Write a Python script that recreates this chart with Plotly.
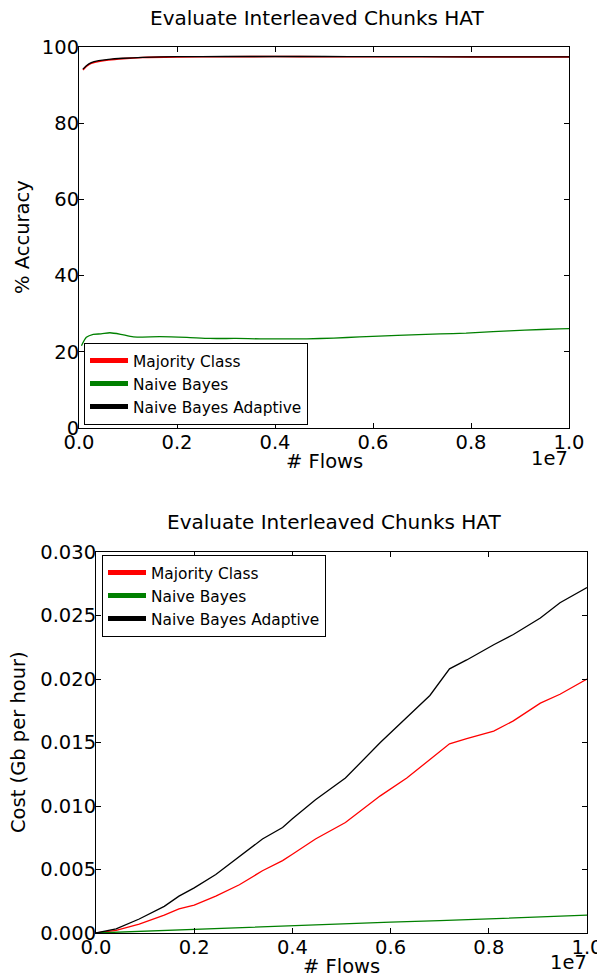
import plotly.graph_objects as go

W, H = 605, 978
OFF = 8  # page body margin: the figure is drawn 8px in from the window corner

# ---------------- data ----------------
series_names = ["Majority Class", "Naive Bayes", "Naive Bayes Adaptive"]
series_colors = ["#ff0000", "#008000", "#000000"]

# Top: % accuracy vs # flows
acc_x_mc = [0.08e6, 0.15e6, 0.25e6, 0.4e6, 0.6e6, 0.9e6, 1.3e6, 2.0e6, 3.0e6, 4.0e6, 5.0e6, 6.0e6, 7.0e6, 8.0e6, 9.0e6, 10.0e6]
acc_mc = [94.0, 94.9, 95.7, 96.2, 96.6, 96.95, 97.25, 97.4, 97.45, 97.5, 97.45, 97.45, 97.45, 97.4, 97.4, 97.4]
acc_nba = [94.2, 95.1, 95.9, 96.4, 96.75, 97.05, 97.3, 97.45, 97.5, 97.5, 97.5, 97.45, 97.45, 97.4, 97.4, 97.4]
acc_x_nb = [0.05e6, 0.15e6, 0.29e6, 0.45e6, 0.63e6, 0.85e6, 1.11e6, 1.65e6, 2.2e6, 2.67e6, 3.2e6, 3.7e6, 4.65e6, 5.2e6, 5.73e6, 6.5e6, 7.37e6, 7.9e6, 8.45e6, 9.1e6, 9.8e6, 10.0e6]
acc_nb = [21.6, 23.8, 24.6, 24.7, 25.0, 24.6, 23.9, 24.0, 23.8, 23.5, 23.5, 23.4, 23.4, 23.6, 23.9, 24.3, 24.7, 24.9, 25.3, 25.7, 26.0, 26.1]

# Bottom: cost vs # flows
cost_x = [0, 0.41e6, 0.88e6, 1.39e6, 1.69e6, 2.0e6, 2.44e6, 2.92e6, 3.39e6, 3.8e6, 4.0e6, 4.47e6, 5.08e6, 5.79e6, 6.33e6, 6.8e6, 7.2e6, 7.55e6, 8.1e6, 8.5e6, 9.05e6, 9.45e6, 10.0e6]
cost_mc = [0, 0.0002, 0.0007, 0.0014, 0.0019, 0.0022, 0.0029, 0.0038, 0.0049, 0.0057, 0.0062, 0.0074, 0.0087, 0.0108, 0.0122, 0.0137, 0.0149, 0.0153, 0.0159, 0.0167, 0.0181, 0.0188, 0.0200]
cost_nba = [0, 0.00032, 0.0011, 0.0021, 0.0029, 0.00355, 0.0046, 0.0060, 0.0074, 0.0083, 0.0090, 0.0105, 0.0122, 0.0150, 0.0170, 0.0187, 0.0208, 0.0215, 0.0227, 0.0235, 0.0248, 0.0260, 0.0272]
cost_x_nb = [0, 1e6, 2e6, 3e6, 4e6, 5e6, 6e6, 7e6, 8e6, 9e6, 10e6]
cost_nb = [0, 0.00015, 0.0003, 0.00045, 0.0006, 0.00072, 0.00085, 0.00097, 0.0011, 0.00125, 0.0014]

x_tickvals = [0, 2e6, 4e6, 6e6, 8e6, 10e6]
x_ticktext = ["0.0", "0.2", "0.4", "0.6", "0.8", "1.0"]
acc_tickvals = [0, 20, 40, 60, 80, 100]
cost_tickvals = [0, 0.005, 0.01, 0.015, 0.02, 0.025, 0.03]

title_text = "Evaluate Interleaved Chunks HAT"

# ---------------- figure ----------------
FONT = "DejaVu Sans"
fig = go.Figure()

lw = 1.3
# top plot traces
fig.add_trace(go.Scatter(x=acc_x_mc, y=acc_mc, mode="lines", line=dict(color=series_colors[0], width=1.6, shape="spline", smoothing=0.6),
                         xaxis="x", yaxis="y", showlegend=False, name=series_names[0]))
fig.add_trace(go.Scatter(x=acc_x_nb, y=acc_nb, mode="lines", line=dict(color=series_colors[1], width=lw, shape="spline", smoothing=0.6),
                         xaxis="x", yaxis="y", showlegend=False, name=series_names[1]))
fig.add_trace(go.Scatter(x=acc_x_mc, y=acc_nba, mode="lines", line=dict(color=series_colors[2], width=1.3, shape="spline", smoothing=0.6),
                         xaxis="x", yaxis="y", showlegend=False, name=series_names[2]))
# bottom plot traces
fig.add_trace(go.Scatter(x=cost_x, y=cost_mc, mode="lines", line=dict(color=series_colors[0], width=lw),
                         xaxis="x2", yaxis="y2", showlegend=False, name=series_names[0]))
fig.add_trace(go.Scatter(x=cost_x_nb, y=cost_nb, mode="lines", line=dict(color=series_colors[1], width=lw),
                         xaxis="x2", yaxis="y2", showlegend=False, name=series_names[1]))
fig.add_trace(go.Scatter(x=cost_x, y=cost_nba, mode="lines", line=dict(color=series_colors[2], width=lw),
                         xaxis="x2", yaxis="y2", showlegend=False, name=series_names[2]))

# legend entries (thick line keys, like the original)
for name, col in zip(series_names, series_colors):
    fig.add_trace(go.Scatter(x=[None], y=[None], mode="lines", line=dict(color=col, width=5),
                             xaxis="x", yaxis="y", name=name, legend="legend"))
for name, col in zip(series_names, series_colors):
    fig.add_trace(go.Scatter(x=[None], y=[None], mode="lines", line=dict(color=col, width=5),
                             xaxis="x2", yaxis="y2", name=name, legend="legend2"))

def px_x(p):
    return (p - OFF) / W

def px_y(p):
    return 1 - (p - OFF) / H

axis_common = dict(showline=True, linecolor="black", linewidth=1, mirror="ticks",
                   ticks="inside", ticklen=5, tickwidth=1, tickcolor="black",
                   showgrid=False, zeroline=False, automargin=False,
                   tickfont=dict(family=FONT, size=19.5, color="black"))

fig.update_layout(
    width=W, height=H,
    margin=dict(l=0, r=0, t=0, b=0),
    paper_bgcolor="white", plot_bgcolor="white",
    font=dict(family=FONT, color="black"),
    xaxis=dict(domain=[px_x(79), px_x(569)], range=[0, 1e7], tickvals=x_tickvals, ticktext=x_ticktext,
               anchor="y", ticklabelstandoff=-3, **axis_common),
    yaxis=dict(domain=[px_y(428), px_y(47)], range=[0, 100], tickvals=acc_tickvals,
               anchor="x", ticklabelstandoff=-5, **axis_common),
    xaxis2=dict(domain=[px_x(96), px_x(587)], range=[0, 1e7], tickvals=x_tickvals, ticktext=x_ticktext,
                anchor="y2", ticklabelstandoff=-3, **axis_common),
    yaxis2=dict(domain=[px_y(933), px_y(552)], range=[0, 0.03], tickvals=cost_tickvals, tickformat=".3f",
                anchor="x2", ticklabelstandoff=-5, **axis_common),
    legend=dict(x=px_x(84), y=px_y(343), xanchor="left", yanchor="top",
                bgcolor="white", bordercolor="black", borderwidth=1, itemwidth=38,
                font=dict(family=FONT, size=15.4, color="black"), tracegroupgap=0),
    legend2=dict(x=px_x(102), y=px_y(555), xanchor="left", yanchor="top",
                 bgcolor="white", bordercolor="black", borderwidth=1, itemwidth=38,
                 font=dict(family=FONT, size=15.4, color="black"), tracegroupgap=0),
)

ann_font = dict(family=FONT, size=19.5, color="black")
annotations = [
    dict(text=title_text, x=px_x(316.5), y=px_y(18), font=dict(family=FONT, size=20, color="black")),
    dict(text="# Flows", x=px_x(324), y=px_y(461)),
    dict(text="1e7", x=px_x(570), y=px_y(458.5), xanchor="right"),
    dict(text="% Accuracy", x=px_x(22), y=px_y(237), textangle=-90),
    dict(text=title_text, x=px_x(334), y=px_y(522), font=dict(family=FONT, size=20, color="black")),
    dict(text="# Flows", x=px_x(341.5), y=px_y(966)),
    dict(text="1e7", x=px_x(589), y=px_y(962.5), xanchor="right"),
    dict(text="Cost (Gb per hour)", x=px_x(18), y=px_y(742), textangle=-90),
]
for a in annotations:
    base = dict(xref="paper", yref="paper", showarrow=False, font=ann_font,
                xanchor="center", yanchor="middle")
    base.update(a)
    fig.add_annotation(**base)

fig.write_html("out.html")
